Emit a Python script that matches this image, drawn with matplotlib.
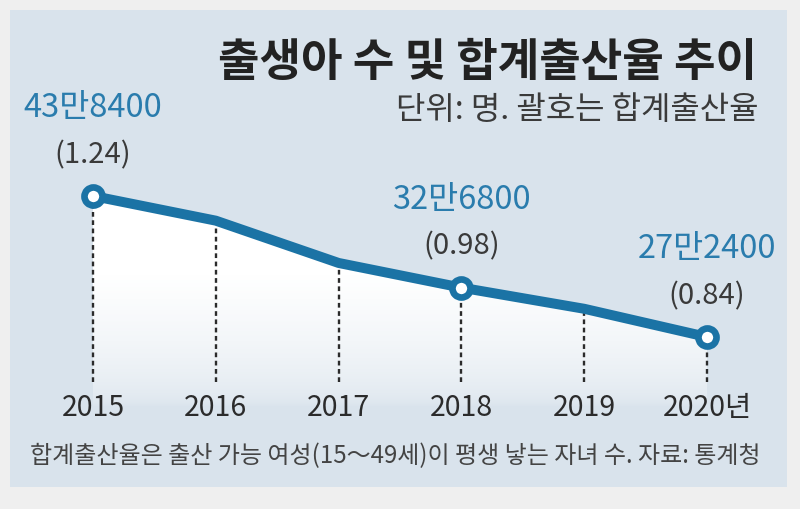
import matplotlib
matplotlib.use("Agg")
import matplotlib.pyplot as plt
import matplotlib.patches as mpatches
import numpy as np

plt.rcParams["font.family"] = ["Noto Sans CJK KR", "DejaVu Sans"]

# ── Data ─────────────────────────────────────────────────────────────────────
years      = [2015, 2016, 2017, 2018, 2019, 2020]
year_lbls  = ["2015", "2016", "2017", "2018", "2019", "2020년"]
tfr        = [1.24, 1.17, 1.05, 0.98, 0.92, 0.84]   # 합계출산율 (line height)
marked     = [2015, 2018, 2020]
births_lbl = ["43만8400", "32만6800", "27만2400"]
tfr_lbl    = ["(1.24)", "(0.98)", "(0.84)"]

TITLE    = "출생아 수 및 합계출산율 추이"
SUBTITLE = "단위: 명. 괄호는 합계출산율"
FOOTER   = "합계출산율은 출산 가능 여성(15～49세)이 평생 낳는 자녀 수. 자료: 통계청"

# ── Theme ────────────────────────────────────────────────────────────────────
OUTER  = "#efefef"
PANEL  = "#d9e3ec"
LINE   = "#1b73a5"
BLUE   = "#2a7cad"
DARK   = "#2b2b2b"
GREY   = "#3a3a3a"

W, H = 800, 509
fig = plt.figure(figsize=(W / 100, H / 100), dpi=100, facecolor=OUTER)

# panel card (behind the axes)
fig.patches.append(mpatches.Rectangle((10 / W, 1 - 487 / H), 777 / W, 477 / H,
                                      transform=fig.transFigure, facecolor=PANEL,
                                      edgecolor="none", zorder=-5))

ax = fig.add_axes([0, 0, 1, 1])
ax.set_facecolor("none")
ax.axis("off")

# whitish glow under the line, fading into the panel colour
y_base = 0.64
poly = ax.fill_between(years, tfr, y_base, color="none")
grad = np.ones((200, 1, 4))
t = np.linspace(0, 1, 200)[:, None]
grad[..., 3] = np.clip((1 - t) / 0.62, 0, 1) ** 0.55
img = ax.imshow(grad, extent=[years[0], years[-1], y_base, max(tfr)], aspect="auto",
                origin="upper", zorder=1, interpolation="bilinear")
img.set_clip_path(poly.get_paths()[0], transform=ax.transData)
ax.set_xlim(2014.2427, 2020.7573)
ax.set_ylim(0.352, 1.796)

# dashed drop lines
ax.vlines(years, 0.712, tfr, colors=DARK, linestyles=(0, (2.0, 1.5)),
          linewidth=1.7, zorder=2)

# main line + hollow markers
ax.plot(years, tfr, color=LINE, linewidth=7.2, solid_capstyle="round",
        solid_joinstyle="round", zorder=3)
mk = [tfr[years.index(y)] for y in marked]
ax.plot(marked, mk, "o", markersize=13, markerfacecolor="white",
        markeredgecolor=LINE, markeredgewidth=4.8, zorder=4)

for x, y, b, r in zip(marked, mk, births_lbl, tfr_lbl):
    ax.annotate(b, (x, y), xytext=(0, 88), textcoords="offset pixels",
                ha="center", va="center", fontsize=23.5, color=BLUE)
    ax.annotate(r, (x, y), xytext=(0, 41), textcoords="offset pixels",
                ha="center", va="center", fontsize=21, color=GREY)

# year labels
for x, lbl in zip(years, year_lbls):
    ax.text(x, 1 - 408 / H, lbl, transform=ax.get_xaxis_transform(),
            ha="center", va="center", fontsize=20.5, color=DARK)

# titles and footer
fig.text(757 / W, 1 - 63 / H, TITLE, ha="right", va="center",
         fontsize=32.5, fontweight="bold", color="#222222")
fig.text(758 / W, 1 - 110 / H, SUBTITLE, ha="right", va="center",
         fontsize=23, color=GREY)
fig.text(30 / W, 1 - 456 / H, FOOTER, ha="left", va="center",
         fontsize=17.3, color="#444444")

fig.savefig("out.png", dpi=100, facecolor=OUTER)
